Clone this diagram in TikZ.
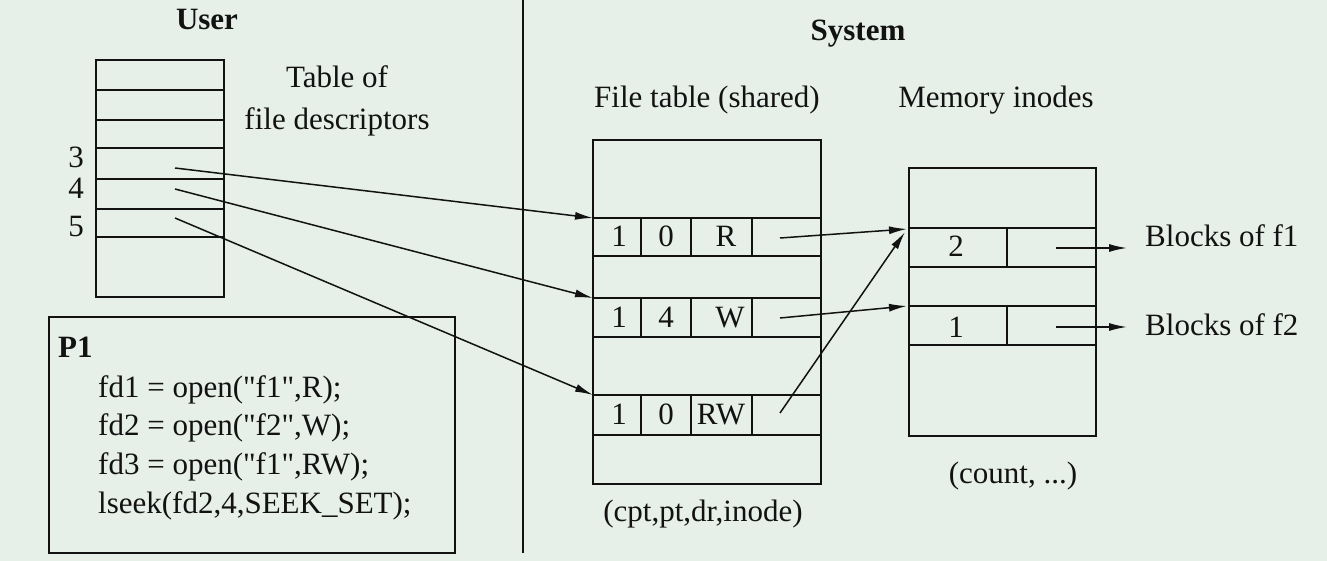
\documentclass[tikz,border=0pt]{standalone}
\usepackage{fontspec}
\setmainfont{Liberation Serif}
\usetikzlibrary{arrows.meta}
\definecolor{bg}{RGB}{230,239,232}
\definecolor{ink}{RGB}{18,18,18}
\begin{document}
\begin{tikzpicture}[x=1pt,y=-1pt,
  tbl/.style={draw=ink,line width=2.3pt},
  conn/.style={draw=ink,line width=1.5pt,-{Latex[length=18pt,width=8pt]}},
  lbl/.style={inner sep=0pt,anchor=base,font=\fontsize{31}{37}\selectfont,text=ink},
  lblw/.style={lbl,anchor=base west},
  ttl/.style={lbl,font=\fontsize{31}{37}\selectfont\bfseries}]
\fill[bg] (0,0) rectangle (1327,561);
\useasboundingbox (0,0) rectangle (1327,561);

% divider
\draw[ink,line width=2.4pt] (523,0) -- (523,553);

% titles
\node[ttl] (user) at (207,30) {User};
\node[ttl] (system) at (858,41) {System};
\node[lbl] (tab1) at (337,88) {Table of};
\node[lbl] (tab2) at (337,130) {file descriptors};
\node[lbl] (ftt) at (707,108) {File table (shared)};
\node[lbl] (mit) at (996,108) {Memory inodes};

% user fd table
\draw[tbl] (96,60) rectangle (224,297);
\foreach \y in {90,120,148,179,209,237} \draw[tbl] (96,\y) -- (224,\y);
\node[lbl] (n3) at (76,168) {3};
\node[lbl] (n4) at (76,199) {4};
\node[lbl] (n5) at (76,237) {5};
\coordinate (fd3) at (175,168);
\coordinate (fd4) at (175,189);
\coordinate (fd5) at (175,218);

% P1 box
\draw[tbl] (49,317) rectangle (455,553);
\node[lblw,font=\fontsize{31}{37}\selectfont\bfseries] (p1) at (58,357) {P1};
\node[lblw] (c1) at (98,397) {fd1 = open(\textquotedbl f1\textquotedbl,R);};
\node[lblw] (c2) at (98,435) {fd2 = open(\textquotedbl f2\textquotedbl,W);};
\node[lblw] (c3) at (98,474) {fd3 = open(\textquotedbl f1\textquotedbl,RW);};
\node[lblw] (c4) at (98,513) {lseek(fd2,4,SEEK\_SET);};

% file table
\draw[tbl] (593,140) rectangle (821,484);
\foreach \y in {218,256,298,337,395,435} \draw[tbl] (593,\y) -- (821,\y);
\foreach \a/\b in {218/256,298/337,395/435}
  \foreach \x in {641,691,752} \draw[tbl] (\x,\a) -- (\x,\b);
\node[lbl] (r1a) at (619,247) {1};
\node[lbl] (r1b) at (666,247) {0};
\node[lbl] (r1c) at (726,247) {R};
\node[lbl] (r2a) at (619,327) {1};
\node[lbl] (r2b) at (666,327) {4};
\node[lbl] (r2c) at (730,327) {W};
\node[lbl] (r3a) at (619,424) {1};
\node[lbl] (r3b) at (666,424) {0};
\node[lbl] (r3c) at (721,424) {RW};
\node[lbl] (ftc) at (703,521) {(cpt,pt,dr,inode)};
\coordinate (ftR) at (593,218);
\coordinate (ftW) at (593,298);
\coordinate (ftRW) at (593,395);
\coordinate (oR) at (780,238);
\coordinate (oW) at (780,318);
\coordinate (oRW) at (780,413);

% memory inodes
\draw[tbl] (909,168) rectangle (1096,436);
\foreach \y in {228,267,306,345} \draw[tbl] (909,\y) -- (1096,\y);
\draw[tbl] (1007,228) -- (1007,267);
\draw[tbl] (1007,306) -- (1007,345);
\node[lbl] (m2) at (956,257) {2};
\node[lbl] (m1) at (956,337) {1};
\node[lbl] (mic) at (1013,483) {(count, ...)};
\coordinate (mi2) at (907,229);
\coordinate (mi2b) at (905,232);
\coordinate (mi1) at (907,306);
\coordinate (o2) at (1056,248);
\coordinate (o1) at (1056,327);
\node[lblw] (b1) at (1145,247) {Blocks of f1};
\node[lblw] (b2) at (1145,335) {Blocks of f2};
\coordinate (e1) at (1127,248);
\coordinate (e2) at (1127,327);

% connectors
\draw[conn] (fd3) -- (ftR);
\draw[conn] (fd4) -- (ftW);
\draw[conn] (fd5) -- (ftRW);
\draw[conn] (oR) -- (mi2);
\draw[conn] (oW) -- (mi1);
\draw[conn] (oRW) -- (mi2b);
\draw[conn] (o2) -- (e1);
\draw[conn] (o1) -- (e2);
\end{tikzpicture}
\end{document}
